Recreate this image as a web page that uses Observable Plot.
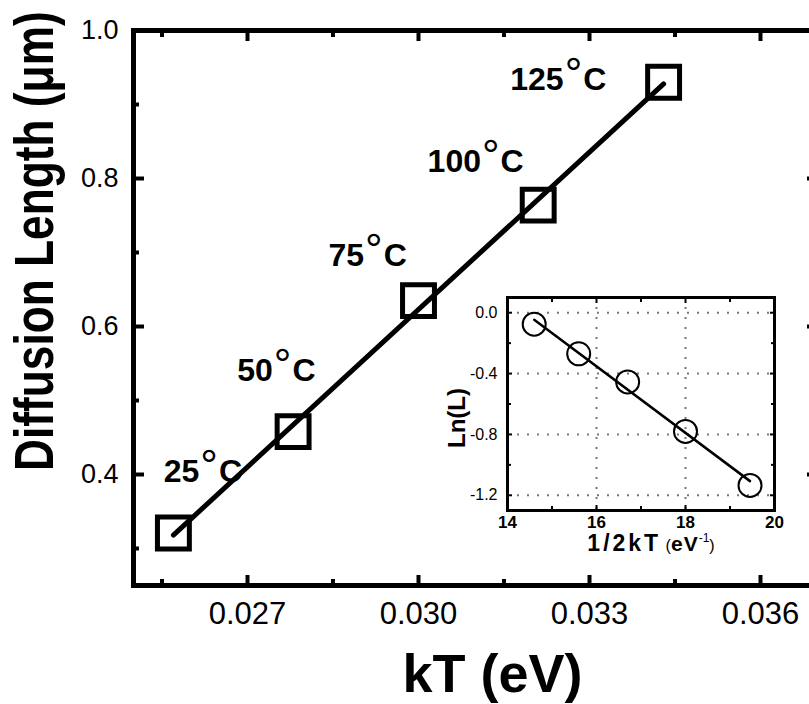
<!DOCTYPE html>
<html><head><meta charset="utf-8">
<script src="https://cdn.jsdelivr.net/npm/d3@7"></script>
<script src="https://cdn.jsdelivr.net/npm/@observablehq/plot@0.6"></script>
<style>
body{margin:0;background:#fff;}
#wrap{position:relative;width:809px;height:704px;overflow:hidden;background:#fff;}
#main,#inset{position:absolute;}
#main{left:0;top:0;width:830px;height:704px;}
#inset{left:430px;top:280px;width:360px;height:290px;}
#wrap svg{max-width:none !important;}
</style></head><body><div id="wrap"><div id="main"></div><div id="inset"></div></div>
<script>
// ---- data ----
const temps = ["25°C","50°C","75°C","100°C","125°C"];
const kT = [0.0257, 0.0278, 0.0300, 0.0321, 0.0343];
const L = [0.321, 0.458, 0.635, 0.764, 0.930];
const labelKT = [0.02553, 0.02682, 0.02842, 0.03016, 0.03161];
const labelL = [0.404, 0.5405, 0.696, 0.823, 0.934];
const invKT = [19.45, 18.0, 16.7, 15.6, 14.6];
const lnL = [-1.135, -0.78, -0.455, -0.27, -0.075];

const xMajor = [0.027, 0.030, 0.033, 0.036];
const xMinor = [0.0255, 0.0285, 0.0315, 0.0345];
const xTickLabels = ["0.027", "0.030", "0.033", "0.036"];
const yMajor = [0.4, 0.6, 0.8, 1.0];
const yMinor = [0.3, 0.5, 0.7, 0.9];
const yTickLabels = ["0.4", "0.6", "0.8", "1.0"];

const ixMajor = [14, 16, 18, 20];
const ixMinor = [15, 17, 19];
const ixTickLabels = ["14", "16", "18", "20"];
const iyMajor = [0, -0.4, -0.8, -1.2];
const iyMinor = [-0.2, -0.6, -1.0];
const iyTickLabels = ["0.0", "-0.4", "-0.8", "-1.2"];

const rows = temps.map((t, i) => ({t, kT: kT[i], L: L[i], lx: labelKT[i], ly: labelL[i], inv: invKT[i], ln: lnL[i]}));
const F = "'Liberation Sans', Arial, Helvetica, sans-serif";
const blank = () => "";

const main = Plot.plot({
  width: 830, height: 704,
  marginLeft: 133, marginRight: 13, marginTop: 30, marginBottom: 119,
  style: {fontFamily: F, background: "white", color: "black", overflow: "visible"},
  x: {domain: [0.025, 0.037]},
  y: {domain: [0.25, 1.0]},
  marks: [
    Plot.axisX({ticks: xMajor, tickSize: 0, tickPadding: 16, fontSize: 31, label: null,
      tickFormat: d => xTickLabels[xMajor.indexOf(d)]}),
    Plot.axisX({ticks: xMajor, tickSize: -10, strokeWidth: 4, tickFormat: blank, label: null}),
    Plot.axisX({ticks: xMinor, tickSize: -6, strokeWidth: 4, tickFormat: blank, label: null}),
    Plot.axisX({anchor: "top", ticks: xMajor, tickSize: -10, strokeWidth: 4, tickFormat: blank, label: null}),
    Plot.axisX({anchor: "top", ticks: xMinor, tickSize: -6, strokeWidth: 4, tickFormat: blank, label: null}),
    Plot.axisY({ticks: yMajor, tickSize: 0, tickPadding: 15, fontSize: 27, label: null,
      tickFormat: d => yTickLabels[yMajor.indexOf(d)]}),
    Plot.axisY({ticks: yMajor, tickSize: -11, strokeWidth: 4, tickFormat: blank, label: null}),
    Plot.axisY({ticks: yMinor, tickSize: -6, strokeWidth: 4, tickFormat: blank, label: null}),
    Plot.axisY({anchor: "right", ticks: yMajor, tickSize: -11, strokeWidth: 4, tickFormat: blank, label: null}),
    Plot.axisY({anchor: "right", ticks: yMinor, tickSize: -6, strokeWidth: 4, tickFormat: blank, label: null}),
    Plot.frame({stroke: "black", strokeWidth: 5}),
    Plot.linearRegressionY(rows, {x: "kT", y: "L", ci: 0, stroke: "black", strokeWidth: 5}),
    Plot.dot(rows, {x: "kT", y: "L", symbol: "square", r: 18, stroke: "black", strokeWidth: 5, fill: "none"}),
    Plot.text(rows, {x: "lx", y: "ly", text: "t", textAnchor: "start", lineAnchor: "middle", fontSize: 32, fontWeight: "bold", className: "templab"}),
    Plot.text(["kT (eV)"], {text: d => d, frameAnchor: "bottom", textAnchor: "middle", lineAnchor: "middle", dx: 17, dy: 89, fontSize: 54, fontWeight: "bold", className: "xlab"}),
    Plot.text(["Diffusion Length (μm)"], {text: d => d, frameAnchor: "left", rotate: -90, textAnchor: "start", lineAnchor: "middle", dx: -98, dy: 163, fontSize: 55, fontWeight: "bold", className: "ylab"})
  ]
});
document.getElementById("main").appendChild(main);

d3.select(main).selectAll(".templab text").each(function () {
  const t = d3.select(this);
  const s = t.text();
  const num = s.replace("°C", "");
  t.text(null);
  t.append("tspan").text(num);
  t.append("tspan").attr("dx", 1).attr("dy", -1).attr("font-size", 44).attr("font-weight", "normal").text("°");
  t.append("tspan").attr("dx", 1).attr("dy", 1).text("C");
});
d3.select(main).selectAll(".ylab text").each(function () {
  const t = d3.select(this);
  const tr = t.attr("transform") || "";
  const len = this.getComputedTextLength();
  const k = len > 0 ? 460 / len : 0.81;
  t.attr("transform", (tr + ` scale(${k},1)`).trim());
});

const inset = Plot.plot({
  width: 360, height: 290,
  marginLeft: 77, marginRight: 16, marginTop: 17, marginBottom: 60,
  style: {fontFamily: F, background: "transparent", color: "black", overflow: "visible"},
  x: {domain: [14, 20]},
  y: {domain: [-1.3, 0.1]},
  marks: [
    Plot.gridX({ticks: [16, 18], stroke: "#777", strokeOpacity: 1, strokeWidth: 2, strokeDasharray: "2,8"}),
    Plot.gridY({ticks: iyMajor, stroke: "#777", strokeOpacity: 1, strokeWidth: 2, strokeDasharray: "2,8"}),
    Plot.axisX({ticks: ixMajor, tickSize: 0, tickPadding: 5, fontSize: 17, fontWeight: "bold", label: null,
      tickFormat: d => ixTickLabels[ixMajor.indexOf(d)]}),
    Plot.axisX({ticks: ixMajor, tickSize: -5, strokeWidth: 2, tickFormat: blank, label: null}),
    Plot.axisX({ticks: ixMinor, tickSize: -4, strokeWidth: 2, tickFormat: blank, label: null}),
    Plot.axisX({anchor: "top", ticks: ixMajor, tickSize: -5, strokeWidth: 2, tickFormat: blank, label: null}),
    Plot.axisX({anchor: "top", ticks: ixMinor, tickSize: -4, strokeWidth: 2, tickFormat: blank, label: null}),
    Plot.axisY({ticks: iyMajor, tickSize: 0, tickPadding: 10, fontSize: 16, label: null,
      tickFormat: d => iyTickLabels[iyMajor.indexOf(d)]}),
    Plot.axisY({ticks: iyMajor, tickSize: -5, strokeWidth: 2, tickFormat: blank, label: null}),
    Plot.axisY({ticks: iyMinor, tickSize: -4, strokeWidth: 2, tickFormat: blank, label: null}),
    Plot.axisY({anchor: "right", ticks: iyMajor, tickSize: -5, strokeWidth: 2, tickFormat: blank, label: null}),
    Plot.axisY({anchor: "right", ticks: iyMinor, tickSize: -4, strokeWidth: 2, tickFormat: blank, label: null}),
    Plot.frame({stroke: "black", strokeWidth: 3}),
    Plot.linearRegressionY(rows, {x: "inv", y: "ln", ci: 0, stroke: "black", strokeWidth: 2.5}),
    Plot.dot(rows, {x: "inv", y: "ln", r: 11.5, stroke: "black", strokeWidth: 2, fill: "none"}),
    Plot.text(["Ln(L)"], {text: d => d, frameAnchor: "left", rotate: -90, textAnchor: "middle", lineAnchor: "middle", dx: -50, dy: 14, fontSize: 24, fontWeight: "bold"}),
    Plot.text(["1/2kT (eV-1)"], {text: d => d, frameAnchor: "bottom", textAnchor: "middle", lineAnchor: "middle", dx: 10, dy: 34, fontSize: 20, className: "ixlab"})
  ]
});
document.getElementById("inset").appendChild(inset);

d3.select(inset).selectAll(".ixlab text").each(function () {
  const t = d3.select(this);
  t.text(null);
  t.append("tspan").attr("font-size", 23).attr("font-weight", "bold").attr("letter-spacing", 3).text("1/2kT");
  t.append("tspan").attr("font-size", 16).text(" (");
  t.append("tspan").attr("font-size", 21).attr("font-weight", "bold").attr("letter-spacing", 1).text("eV");
  t.append("tspan").attr("font-size", 12).attr("dy", -9).text("-1");
  t.append("tspan").attr("font-size", 16).attr("dy", 9).text(")");
});
</script>
</body></html>
